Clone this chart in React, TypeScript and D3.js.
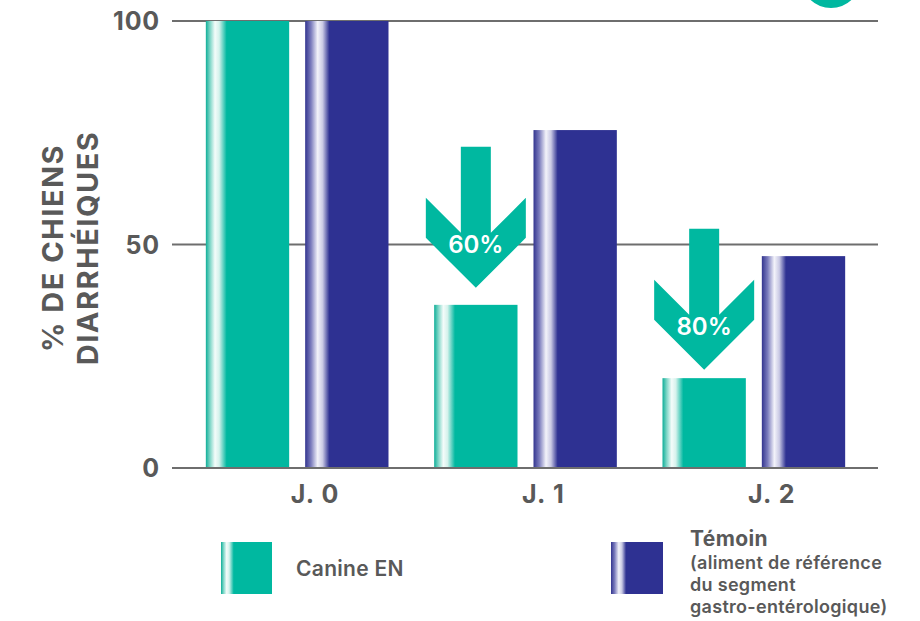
import React from "react";
import * as d3 from "d3";

const categories = ["J. 0", "J. 1", "J. 2"];
const seriesNames = ["Canine EN", "Témoin"];
const canineValues = [100, 36.5, 20.1];
const temoinValues = [100, 75.6, 47.4];
const yTicks = [0, 50, 100];
const arrowCategories = ["J. 1", "J. 2"];
const arrowTipValues = [40.3, 22];
const arrowLabels = ["60%", "80%"];
const temoinSubLines = ["(aliment de référence", "du segment", "gastro-entérologique)"];

const TEAL = "#00b8a0";
const NAVY = "#2e3192";
const GREY = "#595959";
const LINE = "#6e6e6e";
const FONT = "Inter, sans-serif";

export default function App() {
  const W = 920, H = 621;
  const y = d3.scaleLinear().domain([0, 100]).range([468, 21]);
  const x0 = d3.scaleBand<string>().domain(categories).range([183, 868]).paddingInner(0.2).paddingOuter(0.1);
  const x1 = d3.scaleBand<string>().domain(seriesNames).range([0, x0.bandwidth()]).paddingInner(0.161);
  const series = [
    { name: seriesNames[0], values: canineValues, fill: "url(#gTeal)" },
    { name: seriesNames[1], values: temoinValues, fill: "url(#gNavy)" },
  ];
  const gridX1 = 172, gridX2 = 878;

  const arrowPath = (cx: number, tipY: number) => {
    const hw = 50;
    const wing = 40;
    const sw = 15;
    const shaftLen = 141;
    const wingBottom = tipY - hw;
    const wingTop = wingBottom - wing;
    const innerY = wingTop + (hw - sw);
    const p = d3.path();
    p.moveTo(cx - sw, tipY - shaftLen);
    p.lineTo(cx + sw, tipY - shaftLen);
    p.lineTo(cx + sw, innerY);
    p.lineTo(cx + hw, wingTop);
    p.lineTo(cx + hw, wingBottom);
    p.lineTo(cx, tipY);
    p.lineTo(cx - hw, wingBottom);
    p.lineTo(cx - hw, wingTop);
    p.lineTo(cx - sw, innerY);
    p.closePath();
    return p.toString();
  };

  return (
    <svg width={W} height={H} style={{ display: "block", position: "absolute", left: 0, top: 0 }} fontFamily={FONT}>
      <defs>
        <linearGradient id="gTeal" x1="0" x2="1" y1="0" y2="0">
          <stop offset="0" stopColor="#0fae98" />
          <stop offset="0.05" stopColor="#7dd6c7" />
          <stop offset="0.11" stopColor="#f4fcfa" />
          <stop offset="0.16" stopColor="#d5f2ec" />
          <stop offset="0.25" stopColor={TEAL} />
          <stop offset="1" stopColor={TEAL} />
        </linearGradient>
        <linearGradient id="gNavy" x1="0" x2="1" y1="0" y2="0">
          <stop offset="0" stopColor="#33358f" />
          <stop offset="0.07" stopColor="#7b7cbd" />
          <stop offset="0.15" stopColor="#f3f3fa" />
          <stop offset="0.21" stopColor="#c9c9e4" />
          <stop offset="0.29" stopColor={NAVY} />
          <stop offset="1" stopColor={NAVY} />
        </linearGradient>
      </defs>

      <circle cx={831} cy={-22} r={26} fill="none" stroke={TEAL} strokeWidth={8} />

      {yTicks.map((t) => (
        <g key={t}>
          <line x1={gridX1} x2={gridX2} y1={y(t)} y2={y(t)} stroke={LINE} strokeWidth={2} />
          <text x={160} y={y(t)} dy="0.36em" textAnchor="end" fontSize={25} fontWeight={700} letterSpacing={0.8} fill={GREY}>
            {t}
          </text>
        </g>
      ))}

      {series.map((s) =>
        categories.map((c, i) => (
          <rect
            key={s.name + c}
            x={(x0(c) as number) + (x1(s.name) as number)}
            y={y(s.values[i])}
            width={x1.bandwidth()}
            height={y(0) - y(s.values[i])}
            fill={s.fill}
          />
        ))
      )}
      <line x1={gridX1} x2={gridX2} y1={y(0)} y2={y(0)} stroke={LINE} strokeWidth={2} />

      {arrowCategories.map((c, i) => {
        const cx = (x0(c) as number) + (x1(seriesNames[0]) as number) + x1.bandwidth() / 2;
        const tipY = y(arrowTipValues[i]);
        return (
          <g key={c}>
            <path d={arrowPath(cx, tipY)} fill={TEAL} />
            <text x={cx} y={tipY - 35} textAnchor="middle" fontSize={24} fontWeight={600} fill="#fff">
              {arrowLabels[i]}
            </text>
          </g>
        );
      })}

      {categories.map((c) => (
        <text key={c} x={(x0(c) as number) + x0.bandwidth() / 2 + 18} y={503} textAnchor="middle" fontSize={25} fontWeight={700} letterSpacing={1.2} fill={GREY}>
          {c}
        </text>
      ))}

      <g transform="translate(0,248) rotate(-90)">
        <text x={0} y={63} textAnchor="middle" fontSize={29} fontWeight={700} letterSpacing={1.5} fill={GREY}>% DE CHIENS</text>
        <text x={0} y={98} textAnchor="middle" fontSize={29} fontWeight={700} letterSpacing={1.5} fill={GREY}>DIARRHÉIQUES</text>
      </g>

      <rect x={221} y={542} width={51} height={52} fill="url(#gTeal)" />
      <text x={296} y={568} dy="0.36em" fontSize={21} fontWeight={600} letterSpacing={0.3} fill={GREY}>{seriesNames[0]}</text>
      <rect x={611} y={542} width={52} height={52} fill="url(#gNavy)" />
      <text x={690} y={546} fontSize={21} fontWeight={700} letterSpacing={0.4} fill={GREY}>{seriesNames[1]}</text>
      {temoinSubLines.map((l, i) => (
        <text key={l} x={690} y={569 + i * 22} fontSize={18} fontWeight={600} letterSpacing={0.3} fill={GREY}>{l}</text>
      ))}
    </svg>
  );
}
